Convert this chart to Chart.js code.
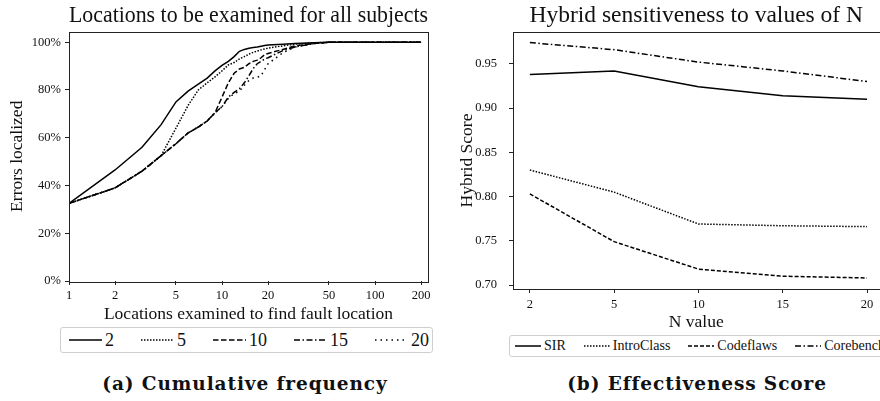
<!DOCTYPE html>
<html>
<head>
<meta charset="utf-8">
<script src="https://cdn.jsdelivr.net/npm/chart.js@4.4.1/dist/chart.umd.min.js"></script>
<style>
    body { margin: 0; width: 880px; height: 401px; overflow: hidden; background: #fff; position: relative;
           font-family: "Liberation Serif", serif; color: #111; }
    canvas { position: absolute; top: 0; }
    .legend { position: absolute; border: 1px solid #cfcfcf; border-radius: 3px; display: flex; align-items: center;
              white-space: nowrap; box-sizing: border-box; background: #fff; font-family: "Liberation Serif", serif; }
    .legend .item { display: flex; align-items: center; }
    .legend svg { display: block; }
    .caption { position: absolute; font-family: "DejaVu Serif", serif; font-weight: bold; font-size: 18.5px;
               letter-spacing: 0.9px; transform: translate(-50%, -50%); white-space: nowrap; }
</style>
</head>
<body>
<canvas id="freqChart" width="440" height="325" style="left:0"></canvas>
<canvas id="scoreChart" width="440" height="335" style="left:440px"></canvas>

<div class="legend" id="freqLegend" style="left:60px; top:327px; width:373px; height:26px; padding-left:8px; font-size:18px"></div>
<div class="legend" id="scoreLegend" style="left:509px; top:335px; width:420px; height:22px; padding-left:5px; font-size:14px"></div>

<div class="caption" style="left:245px; top:383px">(a) Cumulative frequency</div>
<div class="caption" style="left:697px; top:383px">(b) Effectiveness Score</div>

<script>
// Left chart: cumulative % of errors localized vs. locations examined
const locations = [1, 2, 3, 4, 5, 6, 7, 8, 9, 10, 11, 12, 13, 14, 15, 16, 17, 18, 19, 20, 25, 30, 40, 50, 100, 200];
const localizedN2  = [32.5, 46.5, 56, 65.5, 75, 79.5, 82.5, 85, 88, 90.3, 92, 94, 96.2, 97, 97.5, 97.8, 98, 98.3, 98.6, 98.8, 99.2, 99.5, 99.8, 100, 100, 100];
const localizedN5  = [32.5, 39, 46, 52.5, 64, 73.5, 80, 83, 85.5, 88, 90.5, 91.5, 93, 94, 95, 95.8, 96.3, 96.8, 97.2, 97.5, 98.5, 99.2, 99.7, 100, 100, 100];
const localizedN10 = [32.5, 39, 46, 52.5, 57.5, 62, 64.5, 67, 70.5, 77, 83, 87, 88.8, 89.5, 91, 92, 92.5, 93.5, 94.8, 95.3, 97, 98.5, 99.5, 100, 100, 100];
const localizedN15 = [32.5, 39, 46, 52.5, 57.5, 62, 64.5, 67, 70.5, 73, 77, 79, 80.5, 83, 86, 89, 91, 92, 93, 93.5, 96.5, 98, 99.5, 100, 100, 100];
const localizedN20 = [32.5, 39, 46, 52.5, 57.5, 62, 64.5, 67, 70.5, 73, 76.5, 78.5, 79.5, 82, 84, 85, 85.3, 86, 88.6, 91, 95.6, 98, 99.5, 100, 100, 100];
const locationTicks = [1, 2, 5, 10, 20, 50, 100, 200];
const percentTicks = [0, 20, 40, 60, 80, 100];

// Right chart: hybrid score per N
const nValues = ['2', '5', '10', '15', '20'];
const scoreSIR        = [0.938, 0.942, 0.924, 0.914, 0.910];
const scoreIntroClass = [0.830, 0.805, 0.769, 0.767, 0.766];
const scoreCodeflaws  = [0.803, 0.749, 0.718, 0.710, 0.708];
const scoreCorebench  = [0.974, 0.966, 0.952, 0.942, 0.930];
const scoreTicks = [0.70, 0.75, 0.80, 0.85, 0.90, 0.95];

const SERIF = '"Liberation Serif", serif';
const INK = '#111';

// line styles
const SOLID = [];
const DOTTED = [1.5, 1.5];
const DASHED = [5.5, 2.5];
const DASHDOT = [6, 2.5, 1.5, 2.5];
const SPARSE = [1.5, 4];

Chart.defaults.font.family = SERIF;
Chart.defaults.color = INK;

// box around the plot area, like matplotlib spines
const framePlugin = {
    id: 'frame',
    afterDraw(chart) {
        const { ctx, chartArea: a } = chart;
        ctx.save();
        ctx.strokeStyle = '#222';
        ctx.lineWidth = 1;
        ctx.strokeRect(Math.round(a.left) + 0.5, Math.round(a.top) + 0.5,
            Math.round(a.right - a.left), Math.round(a.bottom - a.top));
        ctx.restore();
    }
};

const tickGrid = { drawOnChartArea: false, drawTicks: true, tickLength: 4, color: '#222' };

function line(label, xs, ys, dash) {
    return {
        label,
        data: ys.map((y, i) => ({ x: xs[i], y })),
        borderColor: '#000',
        borderWidth: 1.5,
        borderDash: dash,
        pointRadius: 0,
        tension: 0,
        fill: false
    };
}

new Chart(document.getElementById('freqChart'), {
    type: 'line',
    data: {
        datasets: [
            line('2', locations, localizedN2, SOLID),
            line('5', locations, localizedN5, DOTTED),
            line('10', locations, localizedN10, DASHED),
            line('15', locations, localizedN15, DASHDOT),
            line('20', locations, localizedN20, SPARSE)
        ]
    },
    options: {
        responsive: false,
        animation: false,
        devicePixelRatio: 1,
        layout: { padding: { left: 0, right: 12, top: 0, bottom: 0 } },
        plugins: {
            legend: { display: false },
            tooltip: { enabled: false },
            title: {
                display: true,
                fullSize: false,
                text: 'Locations to be examined for all subjects',
                color: INK,
                font: { family: SERIF, size: 23.5, weight: 'normal' },
                padding: { top: 1.8, bottom: 1.5 }
            }
        },
        scales: {
            x: {
                type: 'logarithmic',
                min: 1,
                max: 222,
                afterBuildTicks: s => { s.ticks = locationTicks.map(v => ({ value: v })); },
                afterFit: s => { s.height = 44; },
                grid: tickGrid,
                border: { display: false },
                ticks: { color: INK, font: { size: 12.5 }, padding: 3, maxRotation: 0, autoSkip: false, callback: v => String(v) },
                title: { display: true, text: 'Locations examined to find fault location', color: INK,
                         font: { size: 17.5 }, padding: { top: 0, bottom: 0 } }
            },
            y: {
                min: 0,
                max: 104.5,
                afterBuildTicks: s => { s.ticks = percentTicks.map(v => ({ value: v })); },
                afterFit: s => { s.width = 69; },
                grid: tickGrid,
                border: { display: false },
                ticks: { color: INK, font: { size: 12.5 }, padding: 4, callback: v => v + '%' },
                title: { display: true, text: 'Errors localized', color: INK,
                         font: { size: 17.5 }, padding: { top: 7, bottom: 0 } }
            }
        }
    },
    plugins: [framePlugin]
});

new Chart(document.getElementById('scoreChart'), {
    type: 'line',
    data: {
        datasets: [
            line('SIR', nValues.map((_, i) => i), scoreSIR, SOLID),
            line('IntroClass', nValues.map((_, i) => i), scoreIntroClass, DOTTED),
            line('Codeflaws', nValues.map((_, i) => i), scoreCodeflaws, [4, 2]),
            line('Corebench', nValues.map((_, i) => i), scoreCorebench, DASHDOT)
        ]
    },
    options: {
        responsive: false,
        animation: false,
        devicePixelRatio: 1,
        layout: { padding: { left: 0, right: 0.5, top: 0, bottom: 0 } },
        plugins: {
            legend: { display: false },
            tooltip: { enabled: false },
            title: {
                display: true,
                fullSize: false,
                text: 'Hybrid sensitiveness to values of N',
                color: INK,
                font: { family: SERIF, size: 23.5, weight: 'normal' },
                padding: { top: 2.2, bottom: 1.6 }
            }
        },
        scales: {
            x: {
                type: 'linear',
                min: -0.2,
                max: 4.148,
                afterBuildTicks: s => { s.ticks = nValues.map((_, i) => ({ value: i })); },
                afterFit: s => { s.height = 46; },
                grid: tickGrid,
                border: { display: false },
                ticks: { color: INK, font: { size: 12.5 }, padding: 4, maxRotation: 0, autoSkip: false, callback: v => nValues[v] },
                title: { display: true, text: 'N value', color: INK, font: { size: 17.5 }, padding: { top: 0, bottom: 1.8 } }
            },
            y: {
                min: 0.6955,
                max: 0.986,
                afterBuildTicks: s => { s.ticks = scoreTicks.map(v => ({ value: v })); },
                afterFit: s => { s.width = 73; },
                grid: tickGrid,
                border: { display: false },
                ticks: { color: INK, font: { size: 12.5 }, padding: 12, callback: v => v.toFixed(2) },
                title: { display: true, text: 'Hybrid Score', color: INK, font: { size: 17.5 }, padding: { top: 16.5, bottom: 0 } }
            }
        }
    },
    plugins: [framePlugin]
});

// HTML legends in the matplotlib style (boxed, line sample + label)
function buildLegend(id, items, sampleLen, textPad, colGap) {
    const box = document.getElementById(id);
    items.forEach(it => {
        const el = document.createElement('div');
        el.className = 'item';
        el.style.marginRight = colGap + 'px';
        el.innerHTML =
            `<svg width="${sampleLen}" height="4"><line x1="0" y1="2" x2="${sampleLen}" y2="2" stroke="#000" stroke-width="1.5" stroke-dasharray="${it.dash.join(' ') || 'none'}"/></svg>` +
            `<span style="margin-left:${textPad}px">${it.label}</span>`;
        box.appendChild(el);
    });
}

buildLegend('freqLegend', [
    { label: '2', dash: SOLID },
    { label: '5', dash: DOTTED },
    { label: '10', dash: DASHED },
    { label: '15', dash: DASHDOT },
    { label: '20', dash: SPARSE }
], 33, 3, 27);

buildLegend('scoreLegend', [
    { label: 'SIR', dash: SOLID },
    { label: 'IntroClass', dash: DOTTED },
    { label: 'Codeflaws', dash: [4, 2] },
    { label: 'Corebench', dash: DASHDOT }
], 26, 3, 18);
</script>
</body>
</html>
